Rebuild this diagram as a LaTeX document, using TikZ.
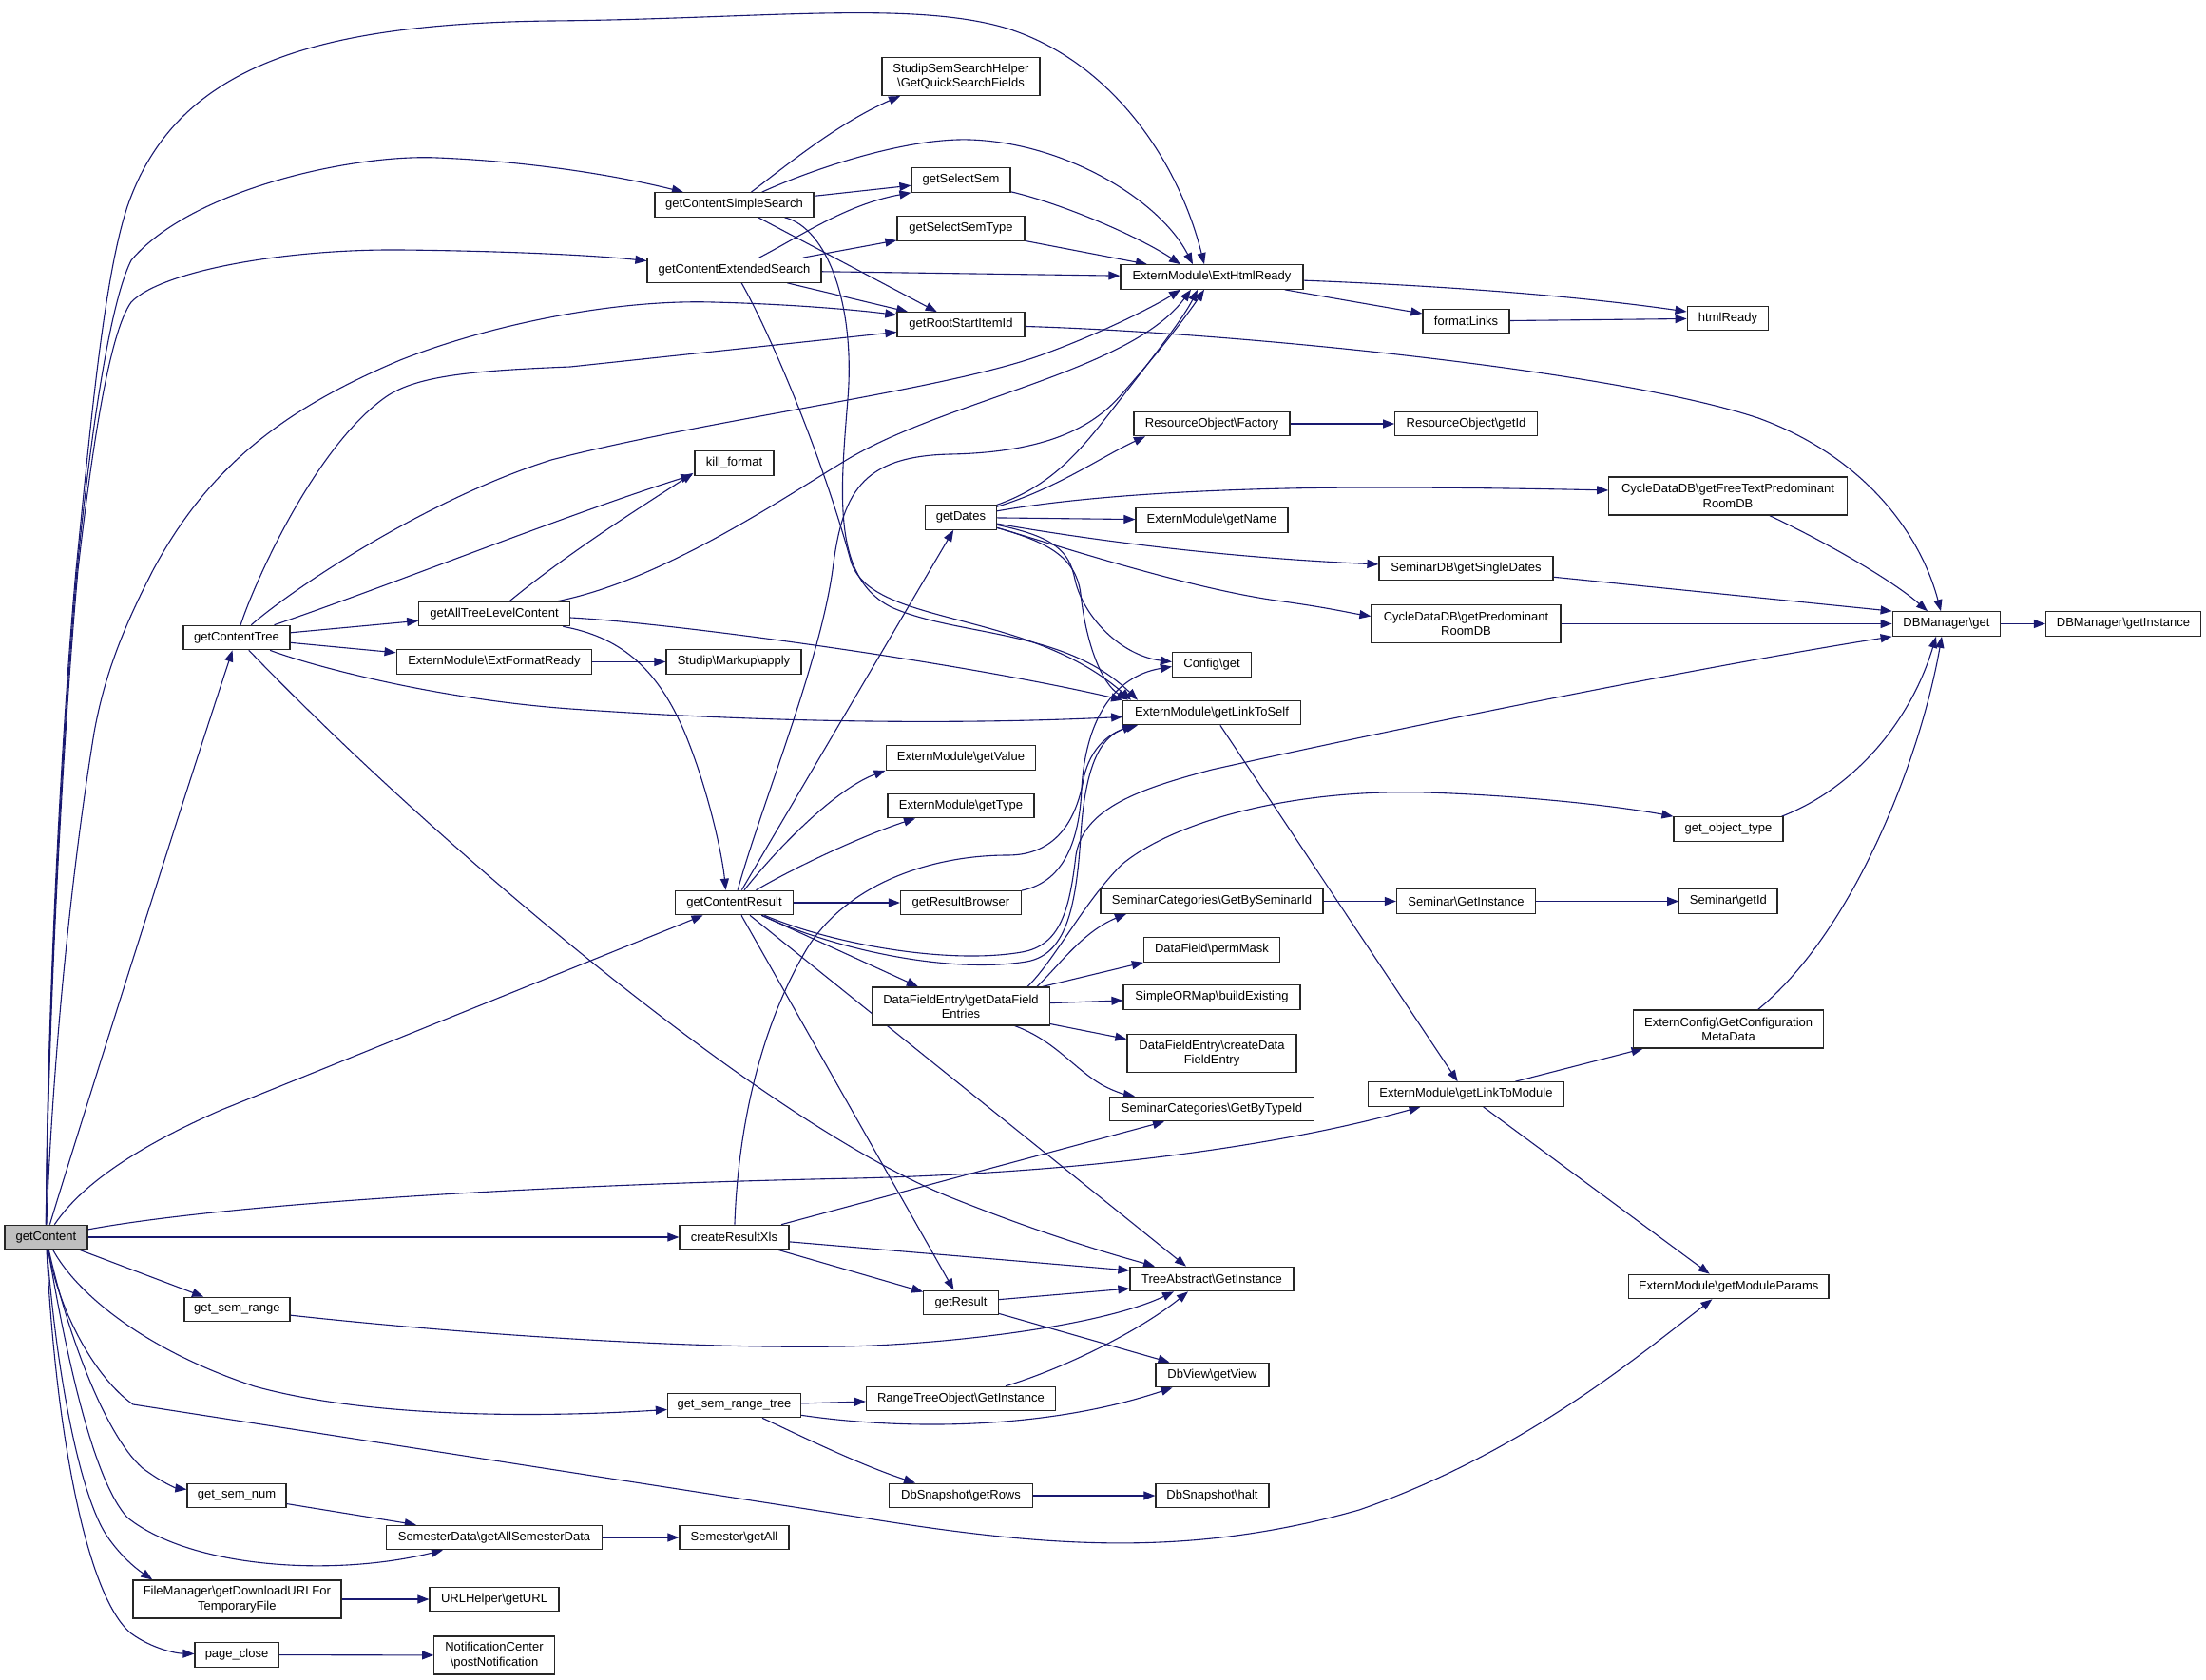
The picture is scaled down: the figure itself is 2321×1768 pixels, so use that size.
\documentclass[tikz,border=0pt]{standalone}
\usepackage{fontspec}
\newfontfamily\lsans{Liberation Sans}
\usetikzlibrary{arrows.meta}
\definecolor{edgec}{RGB}{25,25,112}
\newcommand\bsl{\textbackslash}
\pgfdeclarelayer{bg}
\pgfdeclarelayer{edges}
\pgfsetlayers{bg,edges,main}
\begin{document}
\begin{tikzpicture}[x=1pt,y=-1pt,
  fn/.style={draw=black!85, line width=1.2pt, fill=white, inner xsep=2pt, inner ysep=0pt,
    minimum height=25.5pt, align=center, font={\lsans\fontsize{13}{15.3}\selectfont}},
  fn2/.style={fn, minimum height=40pt},
  edg/.style={draw=edgec, line width=1.1pt, -{Triangle[length=12pt,width=9pt]}}]
\useasboundingbox (0,0) rectangle (2321,1768);
\begin{pgfonlayer}{bg}
\fill[white] (0,0) rectangle (2321,1768);
\end{pgfonlayer}
% nodes
\node[fn, fill=gray!50, minimum width=87pt] (gC) at (48.4,1302) {getContent};
\node[fn,minimum width=167pt] (gCSS) at (772.5,215.5) {getContentSimpleSearch};
\node[fn,minimum width=183pt] (gCES) at (772.5,284.5) {getContentExtendedSearch};
\node[fn,minimum width=112pt] (gCT) at (249,671) {getContentTree};
\node[fn,minimum width=124pt] (gCR) at (772.5,950) {getContentResult};
\node[fn,minimum width=115pt] (cRX) at (772.5,1302) {createResultXls};
\node[fn,minimum width=111pt] (gsr) at (249.4,1378) {get\_sem\_range};
\node[fn,minimum width=140pt] (gsrt) at (772.5,1479) {get\_sem\_range\_tree};
\node[fn,minimum width=104pt] (gsn) at (249,1574) {get\_sem\_num};
\node[fn,minimum width=227pt] (sd) at (520,1618) {SemesterData\bsl getAllSemesterData};
\node[fn2,minimum width=219pt] (fm) at (249.4,1683) {FileManager\bsl getDownloadURLFor\\TemporaryFile};
\node[fn,minimum width=88pt] (pc) at (249,1741.5) {page\_close};
\node[fn,minimum width=83pt] (kf) at (772.5,487.5) {kill\_format};
\node[fn,minimum width=158.5pt] (gATLC) at (520,646) {getAllTreeLevelContent};
\node[fn,minimum width=205.7pt] (eFR) at (520,696.5) {ExternModule\bsl ExtFormatReady};
\node[fn,minimum width=142pt] (sma) at (772,696.5) {Studip\bsl Markup\bsl apply};
\node[fn2,minimum width=166pt] (sqs) at (1011,80.5) {StudipSemSearchHelper\\\bsl GetQuickSearchFields};
\node[fn,minimum width=104pt] (gss) at (1011,189.5) {getSelectSem};
\node[fn,minimum width=134pt] (gsst) at (1011,240.5) {getSelectSemType};
\node[fn,minimum width=134pt] (grsi) at (1011,341.5) {getRootStartItemId};
\node[fn,minimum width=74.6pt] (gD) at (1011,544.5) {getDates};
\node[fn,minimum width=157.7pt] (gV) at (1011,797.5) {ExternModule\bsl getValue};
\node[fn,minimum width=154pt] (gT) at (1011,848) {ExternModule\bsl getType};
\node[fn,minimum width=127pt] (gRB) at (1011,950) {getResultBrowser};
\node[fn2,minimum width=186.6pt] (dfe) at (1011,1059) {DataFieldEntry\bsl getDataField\\Entries};
\node[fn,minimum width=78.5pt] (gR) at (1011,1371) {getResult};
\node[fn,minimum width=199pt] (rto) at (1011,1472) {RangeTreeObject\bsl GetInstance};
\node[fn,minimum width=150.4pt] (dsr) at (1011,1574) {DbSnapshot\bsl getRows};
\node[fn,minimum width=115pt] (sga) at (772.5,1618) {Semester\bsl getAll};
\node[fn,minimum width=136pt] (url) at (520,1683) {URLHelper\bsl getURL};
\node[fn2,minimum width=126.6pt] (nc) at (520,1742) {NotificationCenter\\\bsl postNotification};
\node[fn,minimum width=192pt] (ehr) at (1275,291.5) {ExternModule\bsl ExtHtmlReady};
\node[fn,minimum width=164pt] (rof) at (1275,446) {ResourceObject\bsl Factory};
\node[fn,minimum width=160pt] (gN) at (1275,547.5) {ExternModule\bsl getName};
\node[fn,minimum width=83pt] (cfg) at (1275,699.5) {Config\bsl get};
\node[fn,minimum width=186.5pt] (gLS) at (1275,750) {ExternModule\bsl getLinkToSelf};
\node[fn,minimum width=234pt] (sbs) at (1275,948.5) {SeminarCategories\bsl GetBySeminarId};
\node[fn,minimum width=143pt] (pm) at (1275,999.5) {DataField\bsl permMask};
\node[fn,minimum width=186pt] (boe) at (1275,1049.5) {SimpleORMap\bsl buildExisting};
\node[fn2,minimum width=178pt] (cdf) at (1275,1108.5) {DataFieldEntry\bsl createData\\FieldEntry};
\node[fn,minimum width=214.6pt] (sbt) at (1275,1167) {SeminarCategories\bsl GetByTypeId};
\node[fn,minimum width=172pt] (ta) at (1275,1346) {TreeAbstract\bsl GetInstance};
\node[fn,minimum width=119pt] (dbv) at (1275.5,1447) {DbView\bsl getView};
\node[fn,minimum width=119pt] (dsh) at (1275.5,1574) {DbSnapshot\bsl halt};
\node[fn,minimum width=91pt] (fl) at (1542.5,338) {formatLinks};
\node[fn,minimum width=149.6pt] (roid) at (1542.5,446) {ResourceObject\bsl getId};
\node[fn,minimum width=183pt] (sgsd) at (1542.5,598) {SeminarDB\bsl getSingleDates};
\node[fn2,minimum width=199pt] (cpr) at (1542.5,656.5) {CycleDataDB\bsl getPredominant\\RoomDB};
\node[fn,minimum width=146pt] (sgi) at (1542.5,948.5) {Seminar\bsl GetInstance};
\node[fn,minimum width=205.5pt] (gLM) at (1542.5,1151.5) {ExternModule\bsl getLinkToModule};
\node[fn,minimum width=85.7pt] (hR) at (1818,335) {htmlReady};
\node[fn2,minimum width=250.5pt] (cft) at (1818,522) {CycleDataDB\bsl getFreeTextPredominant\\RoomDB};
\node[fn,minimum width=115pt] (got) at (1818.5,872.5) {get\_object\_type};
\node[fn,minimum width=103.3pt] (sgid) at (1818.4,948.5) {Seminar\bsl getId};
\node[fn2,minimum width=200pt] (ecg) at (1818.6,1083) {ExternConfig\bsl GetConfiguration\\MetaData};
\node[fn,minimum width=210.6pt] (gMP) at (1818.7,1354) {ExternModule\bsl getModuleParams};
\node[fn,minimum width=113.6pt] (dbg) at (2048,656.5) {DBManager\bsl get};
\node[fn,minimum width=163pt] (dbi) at (2234,656.5) {DBManager\bsl getInstance};
% edges
\begin{pgfonlayer}{edges}
% from getContent
\draw[edg] (gC) .. controls (49,1100) and (62,800) .. (80,600) .. controls (95,450) and (110,280) .. (137,209) .. controls (190,70) and (330,25) .. (580,22) .. controls (800,20) and (960,0) .. (1060,30) .. controls (1170,65) and (1240,170) .. ([xshift=-8pt]ehr.north);
\draw[edg] (gC) .. controls (49.5,1100) and (63,800) .. (81,600) .. controls (95,460) and (115,320) .. (138,274) .. controls (200,200) and (370,162) .. (460,166) .. controls (560,170) and (650,185) .. (gCSS);
\draw[edg] (gC) .. controls (50,1100) and (64,800) .. (82,600) .. controls (97,470) and (115,350) .. (138,318) .. controls (170,285) and (300,262) .. (421,263) .. controls (520,264) and (620,268) .. (gCES);
\draw[edg] (gC) .. controls (54,1150) and (70,950) .. (99,771) .. controls (110,710) and (130,660) .. (161,600) .. controls (220,490) and (300,430) .. (421,379) .. controls (520,340) and (650,315) .. (750,318) .. controls (830,320) and (900,326) .. ([yshift=10pt]grsi.west);
\draw[edg] (gC) .. controls (70,1230) and (180,880) .. (gCT);
\draw[edg] (gC) .. controls (90,1240) and (160,1200) .. (233,1168) -- (gCR);
\draw[edg] (gC) .. controls (250,1265) and (600,1246) .. (900,1240) .. controls (1150,1234) and (1350,1205) .. (gLM);
\draw[edg] (gC) -- (cRX);
\draw[edg] (gC) -- (gsr);
\draw[edg] (gC) .. controls (80,1360) and (150,1420) .. (268,1459) .. controls (380,1490) and (550,1493) .. (gsrt);
\draw[edg] (gC) .. controls (62,1380) and (100,1450) .. (140,1478) -- (913,1598) .. controls (1100,1628) and (1250,1640) .. (1430,1589) .. controls (1600,1530) and (1720,1430) .. (gMP);
\draw[edg] (gC) .. controls (70,1400) and (110,1510) .. (150,1545) .. controls (170,1560) and (185,1566) .. (gsn);
\draw[edg] (gC) .. controls (72,1440) and (100,1560) .. (134,1597) .. controls (200,1650) and (350,1660) .. (sd);
\draw[edg] (gC) .. controls (60,1450) and (85,1580) .. (115,1620) .. controls (128,1638) and (142,1650) .. ([xshift=21pt]fm.north west);
\draw[edg] (gC) .. controls (58,1500) and (90,1680) .. (138,1719) .. controls (160,1735) and (185,1740) .. (pc);
% from getContentTree
\draw[edg] (gCT) .. controls (265,620) and (330,470) .. (407,417) .. controls (440,395) and (500,390) .. (600,386) -- ([yshift=-8pt]grsi.west);
\draw[edg] (gCT) .. controls (310,618) and (450,525) .. (580,484) .. controls (750,440) and (1000,410) .. (1100,372) .. controls (1160,350) and (1215,322) .. ([xshift=-33pt]ehr.south);
\draw[edg] (gCT) .. controls (400,620) and (600,540) .. ([xshift=-2pt,yshift=1pt]kf.south west);
\draw[edg] (gCT) -- (gATLC);
\draw[edg] (gCT) -- (eFR);
\draw[edg] (gCT) .. controls (320,698) and (450,735) .. (600,746) .. controls (800,760) and (1000,763) .. (gLS);
\draw[edg] (gCT) .. controls (450,880) and (800,1180) .. (1000,1260) .. controls (1100,1300) and (1170,1320) .. ([xshift=-60pt]ta.north);
% from getAllTreeLevelContent
\draw[edg] (gATLC) .. controls (600,580) and (680,530) .. ([xshift=-1pt,yshift=3pt]kf.south west);
\draw[edg] (gATLC) .. controls (700,610) and (830,520) .. (894,482) .. controls (1000,420) and (1190,390) .. ([xshift=-22pt]ehr.south);
\draw[edg] (gATLC) .. controls (700,655) and (1000,695) .. (gLS.north west);
\draw[edg] (gATLC) .. controls (650,670) and (690,700) .. (720,770) .. controls (745,830) and (760,900) .. ([xshift=-9pt]gCR.north);
\draw[edg] (eFR) -- (sma);
% from getContentSimpleSearch
\draw[edg] (gCSS) .. controls (820,180) and (880,130) .. ([xshift=-64pt]sqs.south);
\draw[edg] (gCSS) .. controls (850,180) and (950,145) .. (1020,147) .. controls (1120,150) and (1220,210) .. ([xshift=-20pt]ehr.north);
\draw[edg] (gCSS) -- (gss);
\draw[edg] (gCSS) -- (grsi);
\draw[edg] (gCSS) .. controls (870,240) and (900,320) .. (892,420) .. controls (884,520) and (875,610) .. (940,640) .. controls (1010,670) and (1120,662) .. ([xshift=-78pt]gLS.north);
% from getContentExtendedSearch
\draw[edg] (gCES) .. controls (840,250) and (890,215) .. (gss.south west);
\draw[edg] (gCES) -- (gsst);
\draw[edg] (gCES) -- (ehr);
\draw[edg] (gCES) -- (grsi);
\draw[edg] (gCES) .. controls (810,350) and (865,480) .. (895,590) .. controls (915,660) and (1080,640) .. ([xshift=-85pt]gLS.north);
\draw[edg] (gss) .. controls (1120,215) and (1200,250) .. ([xshift=-33pt]ehr.north);
\draw[edg] (gsst) -- ([xshift=-68pt]ehr.north);
\draw[edg] (grsi) .. controls (1300,350) and (1700,390) .. (1850,440) .. controls (1960,480) and (2020,560) .. ([xshift=-6pt]dbg.north);
\draw[edg] (ehr) -- (fl);
\draw[edg] (ehr) .. controls (1500,300) and (1650,310) .. ([yshift=7pt]hR.west);
\draw[edg] (fl) -- (hR);
% from getDates
\draw[edg] (gD) .. controls (1110,510) and (1140,470) .. (1175,425) .. controls (1210,380) and (1245,335) .. ([xshift=-15pt]ehr.south);
\draw[edg] (gD) .. controls (1110,515) and (1160,480) .. ([xshift=-70pt]rof.south);
\draw[edg] (gD) .. controls (1150,520) and (1300,513) .. (1450,513) .. controls (1550,513) and (1650,515) .. ([yshift=6pt]cft.west);
\draw[edg] (gD) -- (gN);
\draw[edg] (gD) .. controls (1100,560) and (1250,585) .. (sgsd);
\draw[edg] (gD) .. controls (1100,570) and (1250,620) .. (1350,633) .. controls (1400,640) and (1420,645) .. ([yshift=8pt]cpr.west);
\draw[edg] (gD) .. controls (1110,565) and (1125,580) .. (1131,610) .. controls (1140,650) and (1180,690) .. ([yshift=3pt]cfg.west);
\draw[edg] (gD) .. controls (1100,570) and (1132,585) .. (1137,625) .. controls (1143,680) and (1160,720) .. ([xshift=-88pt]gLS.north);
% from getContentResult
\draw[edg] (gCR) .. controls (800,850) and (862,700) .. (876,600) .. controls (886,520) and (905,480) .. (1000,478) .. controls (1100,476) and (1150,450) .. (1180,415) .. controls (1220,370) and (1250,330) .. ([xshift=-8pt]ehr.south);
\draw[edg] (gCR) -- (gD);
\draw[edg] (gCR) .. controls (820,890) and (880,830) .. (gV.south west);
\draw[edg] (gCR) .. controls (850,905) and (920,875) .. ([xshift=-48pt]gT.south);
\draw[edg] (gCR) -- (gRB);
\draw[edg] (gCR) -- (dfe);
\draw[edg] (gCR) .. controls (880,995) and (1000,1015) .. (1075,1002) .. controls (1115,995) and (1125,960) .. (1132,900) .. controls (1140,850) and (1200,830) .. (1275,810) .. controls (1500,760) and (1800,700) .. (dbg.south west);
\draw[edg] (gCR) .. controls (880,1000) and (1000,1025) .. (1080,1012) .. controls (1120,1005) and (1132,960) .. (1137,880) .. controls (1142,800) and (1160,775) .. ([xshift=-82pt]gLS.south);
\draw[edg] (gCR) -- (gR);
\draw[edg] (gCR) -- ([xshift=-27pt]ta.north);
\draw[edg] (gRB) .. controls (1110,930) and (1135,900) .. (1138,830) .. controls (1142,760) and (1170,712) .. ([yshift=-2pt]cfg.west);
% from createResultXls
\draw[edg] (cRX) .. controls (776,1200) and (795,1090) .. (848,1000) .. controls (890,930) and (980,900) .. (1060,900) .. controls (1110,900) and (1132,865) .. (1140,820) .. controls (1147,785) and (1170,770) .. ([xshift=-78pt]gLS.south);
\draw[edg] (cRX) -- ([xshift=-50pt]sbt.south);
\draw[edg] (cRX) -- ([yshift=9pt]ta.west);
\draw[edg] (cRX) -- (gR);
% from DataFieldEntry
\draw[edg] ([xshift=70pt]dfe.north) .. controls (1110,1010) and (1140,950) .. (1180,910) .. controls (1230,868) and (1350,830) .. (1500,834) .. controls (1600,837) and (1700,848) .. (got.north west);
\draw[edg] ([xshift=80pt]dfe.north) .. controls (1115,1015) and (1140,980) .. ([xshift=-90pt]sbs.south);
\draw[edg] (dfe) -- (pm.south west);
\draw[edg] (dfe) -- (boe);
\draw[edg] (dfe) -- ([yshift=15pt]cdf.west);
\draw[edg] (dfe) .. controls (1110,1095) and (1130,1125) .. (1160,1142) .. controls (1175,1150) and (1185,1152) .. ([xshift=-81pt]sbt.north);
\draw[edg] (sbs) -- (sgi);
\draw[edg] (sgi) -- (sgid);
\draw[edg] (rof) -- (roid);
% into DBManager
\draw[edg] (cft) .. controls (1920,570) and (1990,610) .. ([xshift=-20pt]dbg.north);
\draw[edg] (sgsd) -- (dbg.north west);
\draw[edg] (cpr) -- (dbg);
\draw[edg] (dbg) -- (dbi);
\draw[edg] ([xshift=-2pt]got.north east) .. controls (1950,830) and (2010,760) .. ([xshift=-11pt]dbg.south);
\draw[edg] ([xshift=31pt]ecg.north) .. controls (1950,980) and (2020,800) .. ([xshift=-5pt]dbg.south);
% link to module
\draw[edg] (gLS) -- (gLM);
\draw[edg] (gLM) -- ([xshift=-90pt]ecg.south);
\draw[edg] (gLM) -- ([xshift=-20pt]gMP.north);
% lower part
\draw[edg] (gR) -- ([yshift=-10pt]ta.west);
\draw[edg] (gR) -- ([xshift=-45pt]dbv.north);
\draw[edg] (gsr) .. controls (450,1400) and (700,1420) .. (886,1417) .. controls (1000,1415) and (1160,1395) .. ([xshift=-40pt]ta.south);
\draw[edg] (gsrt) -- (rto);
\draw[edg] (gsrt) .. controls (950,1505) and (1100,1505) .. ([xshift=-42pt]dbv.south);
\draw[edg] (gsrt) .. controls (830,1505) and (900,1540) .. ([xshift=-48pt]dsr.north);
\draw[edg] ([xshift=47pt]rto.north) .. controls (1120,1440) and (1200,1400) .. ([xshift=-25pt]ta.south);
\draw[edg] (dsr) -- (dsh);
\draw[edg] (gsn) -- (sd);
\draw[edg] (sd) -- (sga);
\draw[edg] (fm) -- (url);
\draw[edg] (pc) -- (nc);
\end{pgfonlayer}
\end{tikzpicture}
\end{document}
